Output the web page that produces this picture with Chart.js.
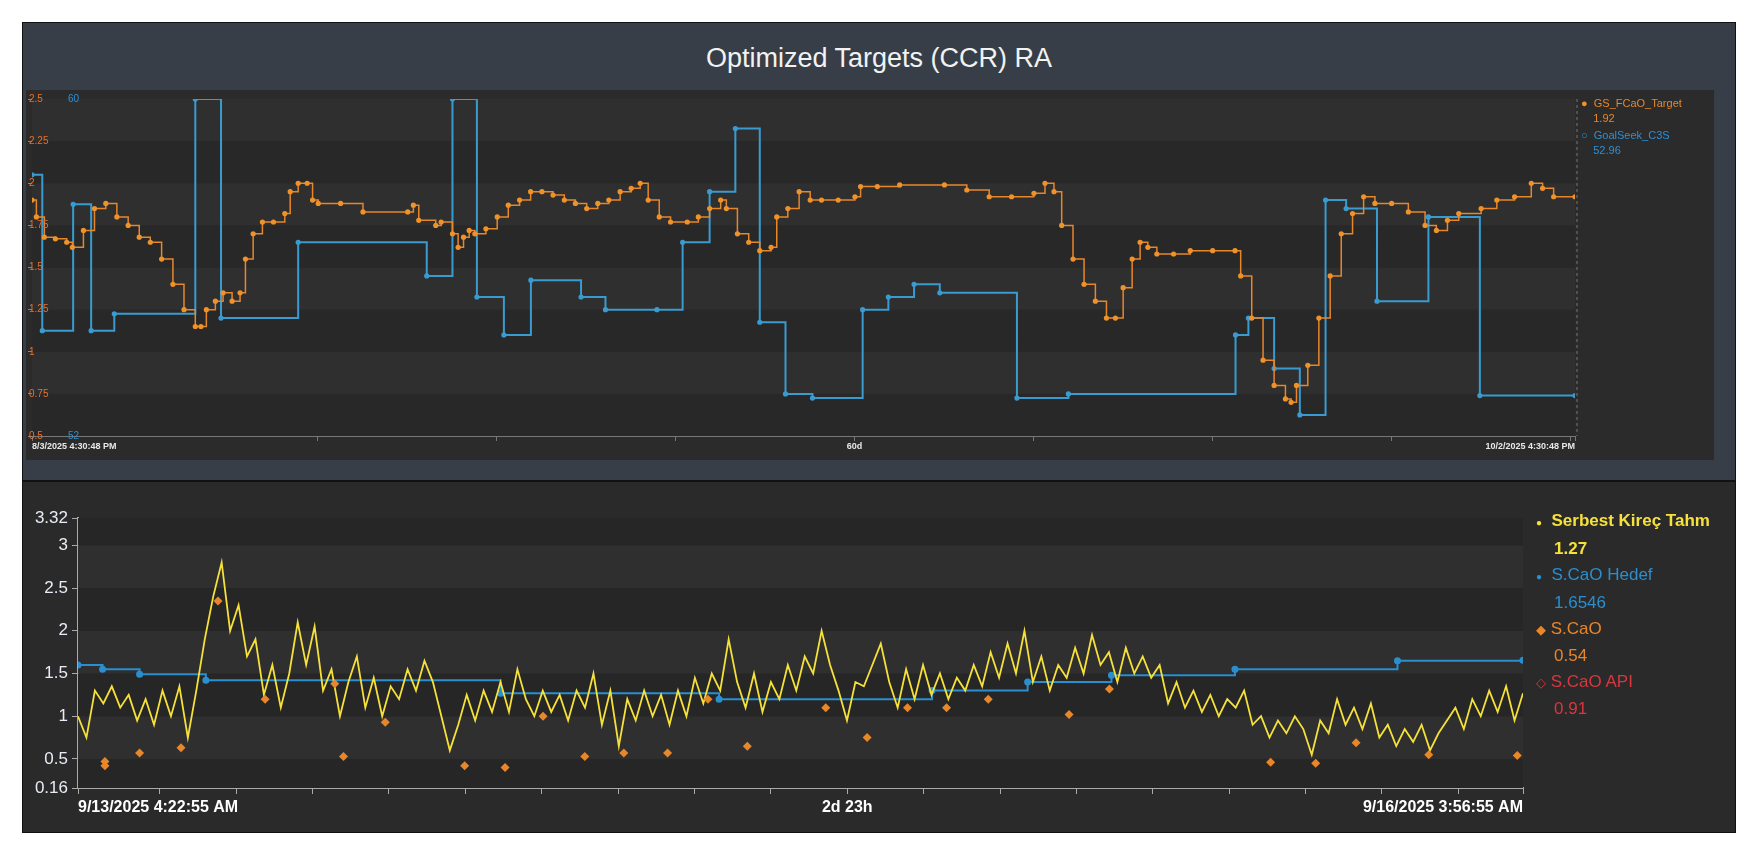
<!DOCTYPE html>
<html><head><meta charset="utf-8">
<script src="https://cdn.jsdelivr.net/npm/chart.js@4"></script>
<style>
body{margin:0;background:#fff;width:1758px;height:868px;position:relative;font-family:Arial,"Liberation Sans",sans-serif;overflow:hidden}
#top{position:absolute;left:22px;top:22px;width:1712px;height:457px;background:#373e48;border:1px solid #111}
#title{position:absolute;left:0;right:0;top:20px;text-align:center;color:#f2f2f2;font-size:27px}
#topInner{position:absolute;left:3px;top:67px;width:1688px;height:370px;background:#2b2b2b}
#bot{position:absolute;left:22px;top:481px;width:1712px;height:350px;background:#2a2a2a;border:1px solid #111}
.lg{position:absolute;font-size:11px;line-height:15px}
.lg2{position:absolute;font-size:17px;line-height:26px}
</style></head><body>
<div id="top"><div id="title">Optimized Targets (CCR) RA</div>
<div id="topInner"><canvas id="c1" width="1688" height="370"></canvas>
<div class="lg" style="left:1555px;top:6px;color:#e8862a"><span style="color:#f0922a">●</span>&nbsp; GS_FCaO_Target<br>&nbsp;&nbsp;&nbsp;&nbsp;1.92</div>
<div class="lg" style="left:1555px;top:38px;color:#2f8fd6"><span style="color:#2f8fd6">○</span>&nbsp; GoalSeek_C3S<br>&nbsp;&nbsp;&nbsp;&nbsp;52.96</div>
</div></div>
<div id="bot"><canvas id="c2" width="1712" height="350"></canvas>
<div class="lg2" style="left:1513px;top:26px;">
<div style="color:#f5e13a;font-weight:bold"><span style="font-size:10px">●</span>&nbsp; Serbest Kireç Tahm</div>
<div style="color:#f5e13a;font-weight:bold;padding-left:18px">1.27</div>
<div style="color:#2a8fd0"><span style="font-size:10px">●</span>&nbsp; S.CaO Hedef</div>
<div style="color:#2a8fd0;padding-left:18px">1.6546</div>
<div style="color:#e8862a"><span style="font-size:13px">◆</span> S.CaO</div>
<div style="color:#e8862a;padding-left:18px">0.54</div>
<div style="color:#d9363e"><span style="font-size:13px">◇</span> S.CaO API</div>
<div style="color:#d9363e;padding-left:18px">0.91</div>
</div></div>
<script>
// ---- top chart data (x in days) ----
const topStart = "8/3/2025 4:30:48 PM", topEnd = "10/2/2025 4:30:48 PM", topMid = "60d";
const fcaoDays = [0,0.17,0.48,0.91,1.35,1.57,2.0,2.43,2.87,3.3,3.74,4.17,4.6,5.04,5.48,5.91,6.35,6.57,6.78,7.13,7.43,7.78,8.09,8.3,8.6,8.96,9.39,9.83,10.04,10.35,10.7,10.91,11.13,12.0,12.87,14.61,14.83,15.04,15.7,15.91,16.35,16.57,16.78,17.0,17.22,17.65,18.09,18.52,18.96,19.39,19.83,20.26,20.7,21.13,21.57,22.0,22.43,22.87,23.3,23.65,23.96,24.39,24.83,25.48,25.91,26.35,26.78,27.0,27.43,27.87,28.3,28.74,28.96,29.39,29.83,30.26,30.7,31.35,32.0,32.22,32.87,33.74,35.48,36.35,37.22,38.09,38.96,39.39,39.74,40.04,40.48,40.91,41.35,41.78,42.13,42.43,42.78,43.09,43.39,43.74,44.39,45.04,45.91,46.78,47.0,47.43,47.87,48.3,48.74,48.96,49.17,49.61,50.04,50.48,50.91,51.35,51.78,52.22,52.87,53.52,54.17,54.61,55.04,55.48,56.35,56.96,57.65,58.3,58.74,59.17,60];
const fcaoVals = [1.9,1.8,1.68,1.67,1.65,1.62,1.72,1.85,1.88,1.8,1.75,1.68,1.65,1.55,1.4,1.25,1.15,1.15,1.25,1.3,1.35,1.3,1.35,1.55,1.7,1.77,1.77,1.82,1.95,2.0,2.0,1.9,1.88,1.88,1.83,1.83,1.87,1.78,1.75,1.77,1.7,1.62,1.68,1.72,1.7,1.73,1.8,1.87,1.9,1.95,1.95,1.93,1.9,1.88,1.85,1.88,1.9,1.95,1.97,2.0,1.9,1.8,1.77,1.77,1.8,1.85,1.9,1.85,1.7,1.65,1.6,1.62,1.8,1.85,1.95,1.9,1.9,1.9,1.92,1.98,1.98,1.99,1.99,1.96,1.92,1.92,1.94,2.0,1.95,1.75,1.55,1.4,1.3,1.2,1.2,1.38,1.55,1.65,1.62,1.58,1.58,1.6,1.6,1.6,1.45,1.2,0.95,0.8,0.72,0.7,0.8,0.92,1.2,1.45,1.7,1.82,1.92,1.88,1.88,1.83,1.75,1.72,1.78,1.82,1.85,1.9,1.92,2.0,1.97,1.92,1.92];
const c3sDays = [0,0.4,1.6,2.3,3.2,6.35,7.35,10.35,15.35,16.35,17.3,18.35,19.4,21.35,22.3,24.3,25.3,26.35,27.35,28.3,29.3,30.35,32.3,33.3,34.3,35.3,38.3,40.3,46.8,47.3,48.3,49.3,50.3,51.1,52.3,54.3,56.3,60];
const c3sVals = [58.2,54.5,57.5,54.5,54.9,60,54.8,56.6,55.8,60,55.3,54.4,55.7,55.3,55.0,55.0,56.6,57.8,59.3,54.7,53.0,52.9,55.0,55.3,55.6,55.4,52.9,53.0,54.4,54.8,53.6,52.5,57.6,57.4,55.2,57.2,52.96,52.96];
// ---- bottom chart data (x in minutes from start) ----
const botStart = "9/13/2025 4:22:55 AM", botEnd = "9/16/2025 3:56:55 AM", botMid = "2d 23h";
const botSpan = 4294;
const kirecVals = [1.0,0.75,1.3,1.15,1.35,1.1,1.25,0.95, 1.2,0.9,1.3,1.0, 1.35,0.75,1.3, 1.9,2.4,2.8, 2.0,2.3,1.7,1.9, 1.25,1.6,1.1,1.5, 2.1,1.6,2.05, 1.3,1.55,1.0,1.4,1.7, 1.1,1.45,1.0,1.35,1.2, 1.55,1.3,1.65,1.4, 1.0,0.6,0.9, 1.25,0.95,1.3,1.05, 1.4,1.05,1.55,1.2, 1.0,1.3,1.05,1.25,0.95,1.3,1.1, 1.5,0.9,1.3,0.65,1.2, 0.95,1.3,1.0,1.25,0.9, 1.3,1.0,1.45,1.15, 1.5,1.3,1.9,1.4, 1.1,1.5,1.05,1.4,1.2, 1.6,1.3,1.7, 1.5,2.0,1.6, 1.3,0.95,1.4, 1.35,1.6,1.85,1.4, 1.1,1.55,1.2,1.6, 1.25,1.5,1.2,1.45,1.3, 1.6,1.35,1.75,1.45,1.85,1.5,2.0, 1.4,1.7,1.3,1.6,1.45, 1.8,1.5,1.95,1.6, 1.75,1.4,1.8,1.5,1.7,1.45,1.6, 1.15,1.4,1.1, 1.3,1.05,1.25,1.0,1.2,1.1,1.3, 0.9,1.0,0.75,0.95,0.8,1.0,0.85,0.55, 0.95,0.8,1.2,0.9,1.1,0.85,1.15, 0.75,0.9,0.65,0.85,0.7,0.9,0.6,0.8, 0.95,1.1,0.85,1.2,1.0,1.3,1.05,1.35,0.95,1.27];
const hedefMin = [0,73,183,380,1256,1905,2538,2822,3071,3438,3921,4294];
const hedefVals = [1.6,1.55,1.49,1.42,1.27,1.2,1.3,1.4,1.48,1.55,1.65,1.6546];
const scaoMin = [80,80,183,306,416,556,763,789,913,1149,1269,1382,1506,1622,1752,1872,1989,2222,2345,2465,2581,2705,2945,3065,3544,3678,3798,4014,4277];
const scaoVals = [0.42,0.47,0.57,0.63,2.35,1.2,1.38,0.53,0.93,0.42,0.4,1.0,0.53,0.57,0.57,1.2,0.65,1.1,0.75,1.1,1.1,1.2,1.02,1.32,0.46,0.45,0.69,0.55,0.54];
const scaoApiVals = [];

const bands = (c1, c2) => ({
  id: 'bands',
  beforeDatasetsDraw(chart) {
    const {ctx, chartArea: a} = chart; const ys = chart.scales.y;
    const t = ys.ticks.map(k => k.value).sort((p,q)=>p-q);
    ctx.save();
    for (let i = 0; i < t.length - 1; i++) {
      const y1 = ys.getPixelForValue(t[i]), y2 = ys.getPixelForValue(t[i+1]);
      ctx.fillStyle = i % 2 ? c1 : c2;
      ctx.fillRect(a.left, y2, a.right - a.left, y1 - y2);
    }
    ctx.restore();
  }
});

const pts = (xs, vs) => xs.map((x, i) => ({x, y: vs[i]}));

// ---- top chart ----
new Chart(document.getElementById('c1'), {
  type: 'line',
  data: { datasets: [
    { data: pts(fcaoDays, fcaoVals), yAxisID: 'y', borderColor: '#e8862a', backgroundColor: '#f0922a', borderWidth: 1.5, pointRadius: 2.6, pointBorderWidth: 0, stepped: true },
    { data: pts(c3sDays, c3sVals), yAxisID: 'y2', borderColor: '#3a9bd0', backgroundColor: '#3a9bd0', borderWidth: 2, pointRadius: 1.6, stepped: true }
  ]},
  options: {
    responsive: false, animation: false, events: [],
    layout: { padding: { top: 9, right: 139, left: 0, bottom: 0 } },
    plugins: { legend: { display: false }, tooltip: { enabled: false } },
    scales: {
      x: { type: 'linear', min: 0, max: 60,
        afterBuildTicks(s) { const t = [{value:0}]; for (let d = 11.1; d < 60; d += 6.96) t.push({value: d}); t.push({value:60}); s.ticks = t; },
        afterFit(s) { s.height = 24; },
        grid: { display: true, drawOnChartArea: false, color: '#777', tickLength: 5 },
        border: { color: '#777' },
        ticks: { align: 'inner', maxRotation: 0, autoSkip: false, color: '#e8e8e8', font: { size: 9, weight: 'bold' }, padding: 0,
          callback(v) { return v === 0 ? topStart : v === 60 ? topEnd : (Math.abs(v - 31.98) < 0.1 ? topMid : ''); } } },
      y: { min: 0.5, max: 2.5, afterFit(s) { s.width = 3; },
        grid: { drawOnChartArea: false, color: '#888', tickLength: 4 }, border: { color: '#777' },
        ticks: { stepSize: 0.25, mirror: true, color: '#e8702a', font: { size: 10 }, padding: -3, z: 1, callback: v => String(+v.toFixed(2)) } },
      y2: { display: false, min: 52, max: 60 }
    }
  },
  plugins: [bands('#2f2f2f', '#282828'), {
    id: 'extra',
    afterDraw(chart) {
      const {ctx, chartArea: a} = chart; const y2 = chart.scales.y2;
      ctx.save(); ctx.fillStyle = '#2f8fd6'; ctx.font = '10px Arial'; ctx.textBaseline = 'middle';
      ctx.fillText('60', a.left + 36, y2.getPixelForValue(60));
      ctx.fillText('52', a.left + 36, y2.getPixelForValue(52));
      ctx.strokeStyle = '#777'; ctx.setLineDash([3, 3]); ctx.beginPath();
      ctx.moveTo(a.right + 2, a.top); ctx.lineTo(a.right + 2, a.bottom); ctx.stroke();
      ctx.restore();
    }
  }]
});

// ---- bottom chart ----
const kStep = botSpan / (kirecVals.length - 1);
new Chart(document.getElementById('c2'), {
  type: 'line',
  data: { datasets: [
    { data: kirecVals.map((v, i) => ({x: i * kStep, y: v})), borderColor: '#f5e13a', borderWidth: 1.8, pointRadius: 0, tension: 0, order: 1 },
    { data: pts(hedefMin, hedefVals), borderColor: '#2a8fd0', backgroundColor: '#2a8fd0', borderWidth: 2, pointRadius: 2.5, stepped: true, order: 2 },
    { type: 'scatter', data: pts(scaoMin, scaoVals), backgroundColor: '#e8862a', pointStyle: 'rectRot', pointRadius: 4.5, borderWidth: 0, order: 0 },
    { type: 'scatter', data: scaoApiVals, borderColor: '#d9363e', pointStyle: 'rectRot', pointRadius: 4 }
  ]},
  options: {
    responsive: false, animation: false, events: [],
    layout: { padding: { top: 36, right: 212, left: 0, bottom: 0 } },
    plugins: { legend: { display: false }, tooltip: { enabled: false } },
    scales: {
      x: { type: 'linear', min: 0, max: botSpan,
        afterBuildTicks(s) { const t = [{value:0}]; for (let m = 243; m < botSpan; m += 227) t.push({value: m}); t.push({value: botSpan}); s.ticks = t; },
        afterFit(s) { s.height = 44; },
        grid: { drawOnChartArea: false, color: '#aaa', tickLength: 6 }, border: { color: '#aaa', width: 2 },
        ticks: { align: 'inner', maxRotation: 0, autoSkip: false, color: '#fff', font: { size: 16, weight: 'bold' }, padding: 4,
          callback(v) { return v === 0 ? botStart : v === botSpan ? botEnd : (Math.abs(v - 2286) < 1 ? botMid : ''); } } },
      y: { min: 0.16, max: 3.32, afterFit(s) { s.width = 55; },
        afterBuildTicks(s) { s.ticks = [0.16,0.5,1,1.5,2,2.5,3,3.32].map(v => ({value: v})); },
        grid: { drawOnChartArea: false, color: '#aaa', tickLength: 6 }, border: { color: '#aaa', width: 2 },
        ticks: { color: '#e8ecf5', font: { size: 17 }, padding: 4, autoSkip: false, callback: v => String(v) } }
    }
  },
  plugins: [bands('#2f2f2f', '#262626')]
});
</script>
</body></html>
